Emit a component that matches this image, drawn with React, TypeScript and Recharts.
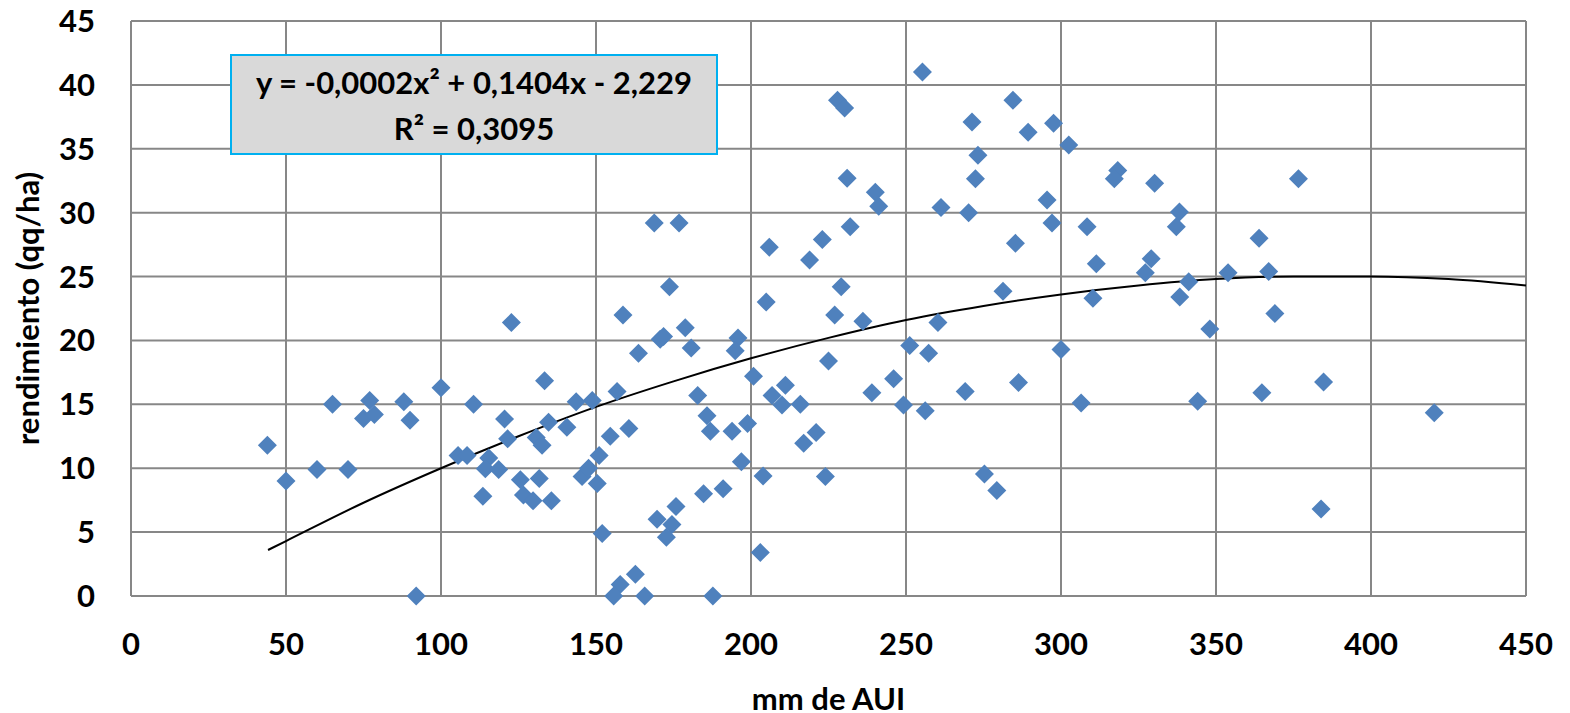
import React from 'react';
import { ComposedChart, Scatter, Line, XAxis, YAxis, CartesianGrid } from 'recharts';

// mm de AUI (x) and rendimiento qq/ha (y)
const aui = [
  44, 50, 60, 70, 65, 77, 75, 78.5, 88, 90, 92, 100, 110.5, 122.7, 133.4, 120.5, 121.5, 105.5, 108.4, 115.4,
  114.3, 118.6, 113.5, 125.6, 126.6, 129.7, 131.7, 130.7, 132.6, 134.7, 140.6, 135.6, 143.6, 148.8, 145.5, 147.6,
  151, 150.4, 152, 168.8, 176.8, 173.7, 158.7, 205.9, 204.9, 223, 218.9, 232, 229.1, 231, 240.1, 241.2,
  227.9, 230.2, 255.3, 261.3, 270.2, 272.4, 273.2, 271.3, 284.5, 289.4, 297.6, 295.5, 297.1, 285.3, 281.3, 227,
  236.1, 260.3, 251.2, 257.3, 300, 225, 170.7, 171.8, 178.8, 163.7, 180.7, 195.8, 194.9, 200.8, 156.8, 182.8,
  211.1, 206.8, 210, 215.9, 185.8, 186.9, 193.9, 198.9, 160.6, 154.6, 196.9, 203.9, 224, 221, 217, 239,
  246, 249.2, 256.2, 269.1, 286.3, 275.3, 279.3, 184.7, 191, 175.8, 169.7, 174.5, 172.7, 203, 162.7, 157.8,
  155.7, 165.7, 187.7, 302.5, 318.3, 317.2, 330.2, 376.6, 308.4, 338.2, 337.2, 311.4, 329.1, 327.2, 363.9, 353.9,
  367, 341.2, 310.3, 338.3, 369, 348, 306.5, 344.1, 364.8, 384.7, 420.4, 383.9,
];
const rendimiento = [
  11.8, 9.0, 9.9, 9.9, 15.0, 15.3, 13.9, 14.2, 15.2, 13.75, 0, 16.3, 15.0, 21.4, 16.85, 13.85, 12.3, 11.0, 11.0, 10.8,
  9.95, 9.9, 7.8, 9.1, 7.9, 7.45, 9.2, 12.4, 11.8, 13.6, 13.2, 7.45, 15.2, 15.3, 9.35, 10.0,
  11.0, 8.8, 4.9, 29.2, 29.2, 24.2, 22.0, 27.3, 23.0, 27.9, 26.3, 28.9, 24.2, 32.7, 31.6, 30.5,
  38.8, 38.2, 41.0, 30.4, 30.0, 32.65, 34.5, 37.1, 38.8, 36.3, 37.0, 31.0, 29.2, 27.6, 23.85, 22.0,
  21.5, 21.4, 19.6, 19.0, 19.3, 18.4, 20.1, 20.3, 21.0, 19.0, 19.4, 20.2, 19.2, 17.2, 16.0, 15.7,
  16.5, 15.7, 14.95, 15.0, 14.1, 12.9, 12.9, 13.5, 13.1, 12.5, 10.5, 9.4, 9.35, 12.8, 11.95, 15.9,
  17.0, 14.95, 14.5, 16.0, 16.7, 9.55, 8.25, 8.0, 8.4, 7.0, 6.0, 5.6, 4.6, 3.4, 1.7, 0.9,
  0, 0, 0, 35.3, 33.3, 32.65, 32.3, 32.65, 28.9, 30.05, 28.9, 26.0, 26.4, 25.3, 28.0, 25.3,
  25.4, 24.6, 23.3, 23.4, 22.1, 20.9, 15.1, 15.25, 15.9, 16.75, 14.35, 6.8,
];

// polynomial trend line
const trendX = [44.2, 50, 75, 100, 125, 150, 175, 200, 225, 250, 275, 300, 325, 350, 375, 400, 425, 450];
const trendY = [3.6, 4.3, 7.3, 10.0, 12.5, 14.8, 16.8, 18.6, 20.2, 21.6, 22.7, 23.6, 24.3, 24.8, 25.0, 25.0, 24.8, 24.3];

const xTicks = [0, 50, 100, 150, 200, 250, 300, 350, 400, 450];
const yTicks = [0, 5, 10, 15, 20, 25, 30, 35, 40, 45];

const points = aui.map((x, i) => ({ x, y: rendimiento[i] }));
const trend = trendX.map((x, i) => ({ x, y: trendY[i] }));

const FONT = 'Lato, "Open Sans", sans-serif';
const GRID = '#878787';
const tickStyle = { fill: '#000', fontSize: 31, fontWeight: 700, fontFamily: FONT };

const Diamond = (props: any) => {
  const { cx, cy } = props;
  if (cx == null || cy == null) return null;
  const r = 9.5;
  return <path d={`M${cx},${cy - r}L${cx + r},${cy}L${cx},${cy + r}L${cx - r},${cy}Z`} fill="#4F81BD" />;
};

const YTitle = (props: any) => {
  const { viewBox } = props;
  const cy = viewBox.y + viewBox.height / 2;
  return (
    <text x={27} y={cy} transform={`rotate(-90, 27, ${cy})`} textAnchor="middle" dominantBaseline="central"
      style={{ fontSize: 31, fontWeight: 700, fontFamily: FONT, fill: '#000' }}>
      rendimiento (qq/ha)
    </text>
  );
};

const XTitle = (props: any) => {
  const { viewBox } = props;
  return (
    <text x={viewBox.x + viewBox.width / 2} y={710} textAnchor="middle"
      style={{ fontSize: 31, fontWeight: 700, fontFamily: FONT, fill: '#000' }}>
      mm de AUI
    </text>
  );
};

export default function App() {
  return (
    <div style={{ position: 'absolute', left: 0, top: 0, width: 1570, height: 713, background: '#fff' }}>
      <ComposedChart width={1570} height={713} margin={{ top: 21, right: 44, left: 0, bottom: 0 }}>
        <CartesianGrid stroke={GRID} strokeWidth={2} />
        <XAxis type="number" dataKey="x" domain={[0, 450]} ticks={xTicks} interval={0}
          stroke={GRID} strokeWidth={2} tickLine={false} tickSize={0} tickMargin={37}
          tick={tickStyle} height={117} label={<XTitle />} />
        <YAxis type="number" dataKey="y" domain={[0, 45]} ticks={yTicks} interval={0}
          stroke={GRID} strokeWidth={2} tickLine={false} tickSize={0} tickMargin={36}
          tick={tickStyle} width={131} label={<YTitle />} />
        <Scatter data={points} dataKey="y" shape={<Diamond />} isAnimationActive={false} />
        <Line data={trend} dataKey="y" type="monotone" stroke="#000" strokeWidth={2} dot={false}
          activeDot={false} isAnimationActive={false} />
      </ComposedChart>
      <svg width={1570} height={713} style={{ position: 'absolute', left: 0, top: 0, pointerEvents: 'none' }}>
        <rect x={231} y={55} width={486} height={99} fill="#D9D9D9" stroke="#00B0F0" strokeWidth={2} />
        <text x={474} y={94} textAnchor="middle"
          style={{ fontSize: 31, fontWeight: 700, fontFamily: FONT, fill: '#000' }}>
          y = -0,0002x² + 0,1404x - 2,229
        </text>
        <text x={474} y={140} textAnchor="middle"
          style={{ fontSize: 31, fontWeight: 700, fontFamily: FONT, fill: '#000' }}>
          R² = 0,3095
        </text>
      </svg>
    </div>
  );
}
